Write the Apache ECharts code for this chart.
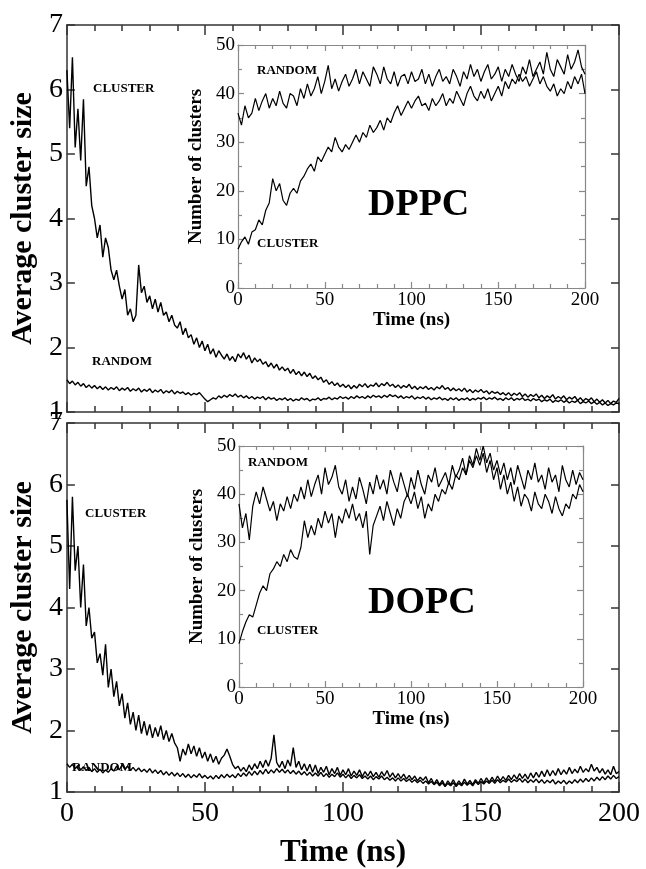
<!DOCTYPE html>
<html>
<head>
<meta charset="utf-8">
<script src="https://cdn.jsdelivr.net/npm/echarts@6/dist/echarts.min.js"></script>
<style>
  html, body { margin: 0; padding: 0; background: #fff; }
  #main { width: 646px; height: 869px; }
</style>
</head>
<body>
<div id="main"></div>
<script>
var MAIN_STEP = 1  // ns between samples in the big panels
var INSET_STEP = 2 // ns between samples in the insets

// DPPC, average cluster size, t = 0..200 ns
var dppcClusterSize = [
  6.3, 5.4, 6.5, 5.1, 5.7, 4.9, 5.85, 4.5, 4.8, 4.2,
  4.0, 3.7, 3.9, 3.4, 3.7, 3.55, 3.2, 3.05, 3.2, 2.95,
  2.75, 2.9, 2.5, 2.6, 2.4, 2.5, 3.28, 2.85, 2.95, 2.7,
  2.8, 2.6, 2.75, 2.55, 2.7, 2.5, 2.55, 2.4, 2.5, 2.35,
  2.3, 2.4, 2.2, 2.3, 2.15, 2.2, 2.05, 2.15, 2.0, 2.1,
  1.95, 2.05, 1.9, 1.98, 1.85, 1.95, 1.88, 1.82, 1.9, 1.8,
  1.86, 1.78, 1.9, 1.84, 1.92, 1.82, 1.88, 1.76, 1.84, 1.78,
  1.82, 1.74, 1.78, 1.7, 1.76, 1.68, 1.74, 1.65, 1.7, 1.64,
  1.68, 1.6, 1.66, 1.58, 1.63, 1.56, 1.62, 1.55, 1.6, 1.52,
  1.56, 1.5, 1.54, 1.46, 1.5, 1.43, 1.47, 1.41, 1.45, 1.39,
  1.43, 1.38, 1.42, 1.36, 1.41, 1.37, 1.43, 1.39, 1.44, 1.38,
  1.42, 1.4, 1.45, 1.39, 1.44, 1.41, 1.46, 1.4, 1.43, 1.38,
  1.42, 1.37, 1.41, 1.38, 1.43, 1.36, 1.4, 1.35, 1.39, 1.36,
  1.4, 1.35, 1.38, 1.34, 1.39, 1.36, 1.41, 1.35, 1.38, 1.33,
  1.37, 1.33, 1.36, 1.32, 1.37, 1.31, 1.35, 1.3, 1.34, 1.31,
  1.35, 1.3, 1.33, 1.28, 1.32, 1.29, 1.31, 1.27, 1.3, 1.26,
  1.3, 1.25, 1.29, 1.26, 1.3, 1.24, 1.28, 1.23, 1.27, 1.24,
  1.28, 1.22, 1.26, 1.21, 1.25, 1.22, 1.27, 1.2, 1.24, 1.21,
  1.25, 1.19, 1.23, 1.2, 1.24, 1.18, 1.22, 1.17, 1.21, 1.18,
  1.22, 1.16, 1.2, 1.15, 1.19, 1.14, 1.18, 1.13, 1.17, 1.15,
  1.21
]
var dppcRandomSize = [
  1.5, 1.44, 1.48, 1.42, 1.46, 1.4, 1.44, 1.38, 1.42, 1.37,
  1.41, 1.36, 1.4, 1.35, 1.39, 1.34, 1.38, 1.35, 1.39, 1.33,
  1.37, 1.34, 1.38, 1.32, 1.36, 1.33, 1.37, 1.31, 1.35, 1.32,
  1.36, 1.3, 1.34, 1.31, 1.35, 1.29, 1.33, 1.3, 1.34, 1.28,
  1.32, 1.29, 1.31, 1.27, 1.3, 1.26, 1.29, 1.27, 1.3, 1.25,
  1.2, 1.16, 1.19, 1.22, 1.2, 1.25, 1.22, 1.26, 1.23, 1.27,
  1.24, 1.28, 1.23, 1.26, 1.22, 1.25, 1.21, 1.24, 1.2, 1.23,
  1.21, 1.24, 1.19, 1.23, 1.2, 1.22, 1.18, 1.21, 1.19, 1.22,
  1.18, 1.21, 1.17, 1.2, 1.18, 1.22, 1.19, 1.21, 1.17, 1.2,
  1.19, 1.22, 1.18, 1.21, 1.2, 1.23, 1.19, 1.22, 1.2, 1.24,
  1.21, 1.23, 1.2, 1.24, 1.21, 1.25, 1.22, 1.24, 1.21, 1.25,
  1.22, 1.26, 1.23, 1.25, 1.22, 1.26, 1.23, 1.27, 1.24, 1.26,
  1.22, 1.25, 1.21, 1.24, 1.22, 1.25, 1.2, 1.23, 1.21, 1.24,
  1.2, 1.23, 1.19, 1.22, 1.2, 1.23, 1.19, 1.21, 1.18, 1.22,
  1.19, 1.22, 1.18, 1.21, 1.19, 1.22, 1.18, 1.21, 1.19, 1.22,
  1.2, 1.23, 1.19, 1.22, 1.2, 1.23, 1.19, 1.21, 1.18, 1.22,
  1.19, 1.22, 1.18, 1.21, 1.19, 1.22, 1.18, 1.2, 1.17, 1.21,
  1.18, 1.2, 1.16, 1.19, 1.17, 1.2, 1.15, 1.18, 1.16, 1.19,
  1.15, 1.18, 1.14, 1.17, 1.15, 1.18, 1.13, 1.16, 1.14, 1.17,
  1.13, 1.16, 1.12, 1.15, 1.11, 1.14, 1.1, 1.13, 1.11, 1.14,
  1.13
]

// DOPC, average cluster size, t = 0..200 ns
var dopcClusterSize = [
  5.75, 4.3, 5.8, 4.6, 5.0, 4.0, 4.7, 3.7, 4.0, 3.5,
  3.6, 3.1, 3.25, 2.9, 3.4, 2.7, 3.0, 2.55, 2.8, 2.4,
  2.6, 2.2, 2.45, 2.1, 2.3, 2.0, 2.25, 1.95, 2.15, 1.92,
  2.1, 1.88, 2.05, 1.9, 2.08, 1.85, 2.0, 1.82, 1.95, 1.8,
  1.72, 1.5, 1.7, 1.6, 1.78, 1.62, 1.75, 1.58, 1.72, 1.55,
  1.65, 1.5, 1.62, 1.48, 1.58, 1.45, 1.55, 1.6, 1.7, 1.58,
  1.45, 1.38, 1.42, 1.34, 1.4, 1.33, 1.44, 1.36, 1.46, 1.38,
  1.5, 1.4, 1.52, 1.42, 1.55, 1.93, 1.48, 1.4, 1.5, 1.38,
  1.52, 1.42, 1.72, 1.4, 1.5, 1.36, 1.46, 1.34, 1.45, 1.32,
  1.44, 1.3, 1.4, 1.32, 1.42, 1.28, 1.38, 1.3, 1.4, 1.27,
  1.36, 1.28, 1.38, 1.26, 1.34, 1.27, 1.36, 1.25, 1.33, 1.26,
  1.34, 1.25, 1.32, 1.24, 1.33, 1.26, 1.35, 1.24, 1.31, 1.23,
  1.3, 1.22, 1.29, 1.21, 1.27, 1.2, 1.26, 1.18, 1.24, 1.19,
  1.25, 1.15, 1.22, 1.13, 1.2, 1.12, 1.19, 1.1, 1.18, 1.12,
  1.2, 1.11, 1.18, 1.12, 1.21, 1.13, 1.19, 1.12, 1.2, 1.14,
  1.22, 1.15, 1.23, 1.16, 1.24, 1.17, 1.26, 1.18, 1.25, 1.19,
  1.27, 1.2, 1.28, 1.21, 1.3, 1.22, 1.29, 1.21, 1.31, 1.23,
  1.32, 1.24, 1.34, 1.25, 1.36, 1.26, 1.35, 1.27, 1.38, 1.28,
  1.36, 1.29, 1.4, 1.3, 1.37, 1.31, 1.42, 1.32, 1.38, 1.33,
  1.45, 1.34, 1.4, 1.31, 1.38, 1.29, 1.36, 1.28, 1.42, 1.3,
  1.33
]
var dopcRandomSize = [
  1.46, 1.4, 1.45, 1.38, 1.43, 1.36, 1.41, 1.35, 1.4, 1.33,
  1.38, 1.32, 1.37, 1.31, 1.36, 1.32, 1.38, 1.34, 1.42, 1.36,
  1.44, 1.37, 1.42, 1.35, 1.4, 1.34, 1.39, 1.33, 1.37, 1.32,
  1.38, 1.31, 1.36, 1.3, 1.35, 1.28, 1.33, 1.27, 1.32, 1.26,
  1.31, 1.25, 1.3, 1.24, 1.29, 1.23, 1.28, 1.24, 1.3, 1.23,
  1.27, 1.22, 1.26, 1.21, 1.27, 1.22, 1.28, 1.23, 1.29, 1.24,
  1.28, 1.23, 1.3, 1.25, 1.31, 1.26, 1.33, 1.27, 1.34, 1.28,
  1.35, 1.29, 1.37, 1.3, 1.36, 1.31, 1.38, 1.32, 1.37, 1.31,
  1.36, 1.3, 1.35, 1.29, 1.34, 1.28, 1.33, 1.27, 1.32, 1.26,
  1.31, 1.26, 1.32, 1.25, 1.3, 1.24, 1.29, 1.25, 1.31, 1.24,
  1.29, 1.23, 1.28, 1.22, 1.27, 1.23, 1.28, 1.22, 1.26, 1.21,
  1.26, 1.2, 1.25, 1.21, 1.26, 1.2, 1.24, 1.19, 1.23, 1.18,
  1.23, 1.18, 1.22, 1.17, 1.21, 1.16, 1.2, 1.15, 1.19, 1.14,
  1.18, 1.13, 1.17, 1.12, 1.16, 1.1, 1.15, 1.09, 1.14, 1.1,
  1.15, 1.09, 1.14, 1.1, 1.16, 1.11, 1.15, 1.1, 1.17, 1.12,
  1.17, 1.13, 1.18, 1.14, 1.19, 1.14, 1.2, 1.15, 1.19, 1.16,
  1.21, 1.16, 1.2, 1.17, 1.22, 1.16, 1.21, 1.15, 1.2, 1.16,
  1.21, 1.15, 1.2, 1.14, 1.19, 1.15, 1.2, 1.13, 1.18, 1.14,
  1.19, 1.13, 1.18, 1.14, 1.2, 1.15, 1.21, 1.16, 1.22, 1.17,
  1.23, 1.18, 1.24, 1.19, 1.25, 1.2, 1.26, 1.21, 1.27, 1.22,
  1.25
]

// DPPC inset, number of clusters, t = 0..200 ns
var dppcRandomCount = [
  36, 33.5, 37.5, 35, 36, 39, 36.5, 38.5, 40, 37,
  39, 37.5, 40.5, 38, 37, 40, 39.5, 37.5, 41, 39,
  42, 39.5, 41, 43.5, 40, 42.5, 45.8, 41, 43, 40.5,
  42.5, 44, 41.5, 43, 45, 42, 44.5, 43, 41.5, 45.5,
  44, 42, 45.5, 43, 42, 44.5, 41.5, 43.5, 44, 42,
  44.5, 42.5, 43, 45, 42, 44, 41.5, 43.5, 45, 42.5,
  43.5, 42, 45, 43.5, 41.5, 44.5, 43, 46, 43.5, 45,
  42.5, 44.5, 46, 43, 44, 45.5, 42.5, 45, 43.5, 46,
  44, 42.5, 45.5, 44, 47, 43.5, 45, 46.5, 44, 48.5,
  45, 43.5, 47, 45.5, 44, 48, 45, 46.5, 49, 45.5,
  44
]
var dppcClusterCount = [
  8, 9.5, 10.5, 9, 11.5, 12, 14, 13, 16, 17.5,
  22.5, 20, 21.5, 18, 17, 19.5, 20.5, 19.5, 22, 23,
  24.5, 25.5, 24, 27, 26, 27.5, 29, 28, 31, 29,
  28, 29.5, 28.5, 30, 31.5, 30, 32, 31, 33.5, 32,
  33, 34.5, 32.5, 35, 34, 36, 37.5, 35.5, 37, 38.5,
  37, 38.5, 39.5, 37.5, 38, 36.5, 39, 37.5, 38.5, 40,
  37.5, 39, 38, 40.5, 39, 37.5, 40, 41.5, 39.5, 38.5,
  40.5, 39, 41, 38.5, 40, 41.5, 39.5, 42.5, 41, 43,
  42, 44, 42.5, 43.5, 41.5, 43, 44.5, 42, 43.5, 41.5,
  40.5, 42, 39.5, 41, 40, 42.5, 41, 43.5, 42, 44,
  40
]

// DOPC inset, number of clusters, t = 0..200 ns
var dopcRandomCount = [
  38, 33, 36, 30.5, 37.5, 40.5, 38, 41.5, 39, 36.5,
  38.5, 34.5, 38, 36.5, 39.5, 37, 40, 38.5, 41.5, 39,
  43, 39.5, 42, 44, 40, 45.5, 42, 43.5, 46, 41.5,
  40, 43, 38.5, 41.5, 39, 43.5, 41, 38, 42.5, 40,
  44, 41, 43, 40, 45, 42.5, 40.5, 44.5, 42, 39.5,
  43.5, 41, 45, 42, 40, 44, 42.5, 45.5, 41.5, 43,
  44.5, 42, 46, 43.5, 45, 47.5, 44, 48, 46, 49.5,
  47, 50, 46.5, 48.5, 45, 47, 44, 46.5, 43, 45.5,
  42, 46, 43.5, 41, 45, 43, 46.5, 42.5, 44, 41,
  45.5, 42.5, 44, 40.5, 46, 43, 41.5, 45, 42, 44.5,
  43
]
var dopcClusterCount = [
  9, 11.5, 13.5, 15, 14.5, 17, 19.5, 21, 20, 23.5,
  24.5, 26, 25, 27.5, 26, 28.5, 27, 26.5, 29, 34.5,
  31, 33.5, 31.5, 35, 33, 36.5, 34, 36, 31, 35.5,
  34, 37, 35, 38, 34.5, 36, 33, 36.5, 27.5, 33.5,
  35.5, 37.5, 34.5, 38.5, 36, 33.5, 37, 35, 38.5, 40,
  38, 40.5, 37, 39.5, 35, 38, 36.5, 40, 38.5, 41,
  40, 42.5, 41, 44, 43, 45.5, 44, 47, 45.5, 48,
  46, 48.5, 44.5, 47, 43, 45.5, 41, 44, 40, 42.5,
  38.5, 41.5, 37.5, 40, 39, 36.5, 40.5, 38, 37, 40,
  38.5, 36, 39.5, 37, 35.5, 38, 37, 40, 39, 42,
  40.5
]

var SERIF = 'Liberation Serif'

function toPoints(values, step) {
  return values.map(function (v, i) { return [i * step, v] })
}

// one box = bottom/left axes with labels, top/right mirror axes with ticks only
function xAxes(grid, opt) {
  var base = {
    gridIndex: grid,
    type: 'value',
    min: 0,
    max: 200,
    interval: 50,
    splitLine: { show: false },
    axisLine: { onZero: false, lineStyle: { color: opt.color, width: opt.lineWidth } },
    axisTick: { inside: true, length: opt.tick, lineStyle: { color: opt.color, width: opt.lineWidth } },
    minorTick: { show: true, splitNumber: 5, length: opt.minorTick, lineStyle: { color: opt.color, width: opt.lineWidth } }
  }
  var bottom = echarts.util.merge({
    position: 'bottom',
    axisLabel: { show: opt.labels, fontFamily: SERIF, fontSize: opt.fontSize, color: '#000', margin: opt.margin },
    name: opt.labels ? 'Time (ns)' : '',
    nameLocation: 'middle',
    nameGap: opt.nameGap,
    nameTextStyle: { fontFamily: SERIF, fontWeight: 'bold', fontSize: opt.nameSize, color: '#000' }
  }, base, true)
  var top = echarts.util.merge({ position: 'top', axisLabel: { show: false } }, base, true)
  return [bottom, top]
}

function yAxes(grid, opt) {
  var base = {
    gridIndex: grid,
    type: 'value',
    min: opt.min,
    max: opt.max,
    interval: opt.interval,
    splitLine: { show: false },
    axisLine: { onZero: false, lineStyle: { color: opt.color, width: opt.lineWidth } },
    axisTick: { inside: true, length: opt.tick, lineStyle: { color: opt.color, width: opt.lineWidth } },
    minorTick: { show: opt.minorSplit > 0, splitNumber: opt.minorSplit || 1, length: opt.minorTick, lineStyle: { color: opt.color, width: opt.lineWidth } }
  }
  var left = echarts.util.merge({
    position: 'left',
    axisLabel: { fontFamily: SERIF, fontSize: opt.fontSize, color: '#000', margin: opt.margin },
    name: opt.name,
    nameLocation: 'middle',
    nameGap: opt.nameGap,
    nameTextStyle: { fontFamily: SERIF, fontWeight: 'bold', fontSize: opt.nameSize, color: '#000' }
  }, base, true)
  var right = echarts.util.merge({ position: 'right', axisLabel: { show: false } }, base, true)
  return [left, right]
}

var mainX = { color: '#333', lineWidth: 1.5, tick: 10, minorTick: 6, fontSize: 28, margin: 8, nameGap: 45, nameSize: 31 }
var mainY = { min: 1, max: 7, interval: 1, minorSplit: 0, color: '#333', lineWidth: 1.5, tick: 8, minorTick: 0,
  fontSize: 28, margin: 4, name: 'Average cluster size', nameGap: 26, nameSize: 30 }
var insetX = { color: '#888', lineWidth: 1.2, tick: 6, minorTick: 4, fontSize: 19, margin: 3, nameGap: 22, nameSize: 19, labels: true }
var insetY = { min: 0, max: 50, interval: 10, minorSplit: 2, color: '#888', lineWidth: 1.2, tick: 6, minorTick: 4,
  fontSize: 19, margin: 3, name: 'Number of clusters', nameGap: 24, nameSize: 19 }

var xAxis = [].concat(
  xAxes(0, echarts.util.extend({ labels: false }, mainX)),
  xAxes(1, echarts.util.extend({ labels: true }, mainX)),
  xAxes(2, insetX),
  xAxes(3, insetX)
)
var yAxis = [].concat(yAxes(0, mainY), yAxes(1, mainY), yAxes(2, insetY), yAxes(3, insetY))

function line(data, step, axis, width) {
  return {
    type: 'line',
    xAxisIndex: axis,
    yAxisIndex: axis,
    data: toPoints(data, step),
    showSymbol: false,
    silent: true,
    lineStyle: { color: '#000', width: width }
  }
}

function label(text, x, y, size) {
  return {
    type: 'text',
    left: x,
    top: y,
    style: { text: text, fontFamily: SERIF, fontWeight: 'bold', fontSize: size, fill: '#000' }
  }
}

var chart = echarts.init(document.getElementById('main'), null, { renderer: 'canvas' })
chart.setOption({
  animation: false,
  backgroundColor: '#fff',
  grid: [
    { left: 66, top: 25, width: 553, height: 387 },
    { left: 66, top: 423, width: 553, height: 389 },
    { left: 238, top: 45, width: 347, height: 243, show: true, backgroundColor: '#fff', borderWidth: 0 },
    { left: 239, top: 446, width: 344, height: 241, show: true, backgroundColor: '#fff', borderWidth: 0 }
  ],
  xAxis: xAxis,
  yAxis: yAxis,
  series: [
    line(dppcClusterSize, MAIN_STEP, 0, 1.4),
    line(dppcRandomSize, MAIN_STEP, 0, 1.4),
    line(dopcClusterSize, MAIN_STEP, 2, 1.4),
    line(dopcRandomSize, MAIN_STEP, 2, 1.4),
    line(dppcRandomCount, INSET_STEP, 4, 1.2),
    line(dppcClusterCount, INSET_STEP, 4, 1.2),
    line(dopcRandomCount, INSET_STEP, 6, 1.2),
    line(dopcClusterCount, INSET_STEP, 6, 1.2)
  ],
  graphic: [
    label('CLUSTER', 93, 82, 13),
    label('RANDOM', 92, 355, 13),
    label('RANDOM', 257, 64, 13),
    label('CLUSTER', 257, 237, 13),
    label('DPPC', 368, 186, 38),
    label('CLUSTER', 85, 507, 13),
    label('RANDOM', 72, 761, 13),
    label('RANDOM', 248, 456, 13),
    label('CLUSTER', 257, 624, 13),
    label('DOPC', 368, 584, 38)
  ]
})
</script>
</body>
</html>
